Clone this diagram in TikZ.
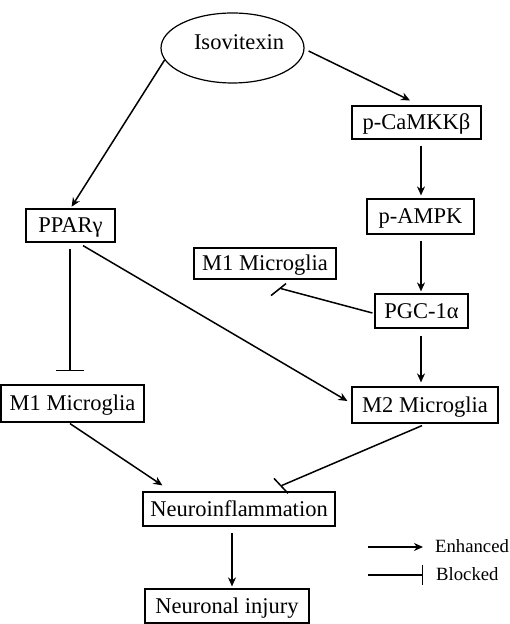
\documentclass[tikz,border=0pt]{standalone}
\usepackage{fontspec}
\setmainfont{Liberation Serif}
\usetikzlibrary{arrows.meta,shapes.geometric}
\begin{document}
\begin{tikzpicture}[x=1pt,y=1pt,
  box/.style={draw,line width=1.2pt,inner sep=0pt,text height=15pt,text depth=0pt,
    font=\fontsize{22.5}{27}\selectfont},
  conn/.style={line width=1.5pt},
  arr/.style={conn,-{Stealth[length=9pt,width=8pt]}},
  legtxt/.style={anchor=west,inner sep=0pt,font=\fontsize{18.7}{22}\selectfont}]
\useasboundingbox (0,0) rectangle (510,624);
% nodes
\node[draw,ellipse,line width=1.2pt,minimum width=143pt,minimum height=70pt,inner sep=0pt] (iso) at (232.5,576) {};
\node[inner sep=0pt,text height=15pt,text depth=0pt,font=\fontsize{22.5}{27}\selectfont] (isotxt) at (239,582) {Isovitexin};
\node[box,minimum width=129pt,minimum height=33pt] (cam) at (416.5,501.5) {p-CaMKKβ};
\node[box,minimum width=107pt,minimum height=35pt] (ampk) at (420.5,407.5) {p-AMPK};
\node[box,minimum width=89pt,minimum height=33pt] (ppar) at (70.5,398.5) {PPARγ};
\node[box,minimum width=142pt,minimum height=31pt] (m1a) at (265,360.5) {M1 Microglia};
\node[box,minimum width=93pt,minimum height=34pt] (pgc) at (421.5,313) {PGC-1α};
\node[box,minimum width=143pt,minimum height=37pt] (m1b) at (72.5,220.5) {M1 Microglia};
\node[box,minimum width=146pt,minimum height=36pt] (m2) at (425,219) {M2 Microglia};
\node[box,minimum width=192pt,minimum height=34pt] (neu) at (239,115) {Neuroinflammation};
\node[box,minimum width=164pt,minimum height=34pt] (inj) at (227,18) {Neuronal injury};
% connectors
\draw[arr,shorten >=2pt] (iso.190) -- (ppar.north);
\draw[arr] ([shift={(4,-3)}]iso.east) -- ([shift={(-6.5,5)}]cam.north);
\draw[arr] ([shift={(4.5,-6)}]cam.south) -- ([shift={(0.5,3)}]ampk.north);
\draw[arr] ([shift={(0.5,-6)}]ampk.south) -- ([shift={(-0.5,2)}]pgc.north);
\draw[conn] ([shift={(-2,-2)}]pgc.west) -- ([shift={(16,-9)}]m1a.south) coordinate (b1)
  ([shift={(-10,-7)}]b1) -- ([shift={(5,5)}]b1);
\draw[conn,-{Bar[width=28pt,line width=1.5pt]}] ([shift={(-0.5,-6)}]ppar.south) -- ([shift={(-2.5,13)}]m1b.north);
\draw[arr] ([shift={(12.5,-3)}]ppar.south) -- ([shift={(-4,4)}]m2.west);
\draw[arr] ([shift={(-0.5,-7)}]pgc.south) -- ([shift={(-4,4)}]m2.north);
\draw[arr] ([shift={(-2.5,-1)}]m1b.south) -- ([shift={(20,6)}]neu.north west);
\draw[conn] ([shift={(-3,-2)}]m2.south) -- ([shift={(43,6)}]neu.north) coordinate (b2)
  ([shift={(-8,7)}]b2) -- ([shift={(6,-8)}]b2);
\draw[arr] ([shift={(-7,-6)}]neu.south) -- ([shift={(5,2)}]inj.north);
% legend
\node[legtxt] (enh) at (435,78) {Enhanced};
\node[legtxt] (blk) at (436,50) {Blocked};
\coordinate (l1) at (368,77);
\coordinate (l2) at (368,49);
\draw[arr] (l1) -- ([xshift=-12pt,yshift=-1pt]enh.west);
\draw[conn,-{Bar[width=20pt,line width=1.5pt]}] (l2) -- ([xshift=-13pt,yshift=-1pt]blk.west);
\end{tikzpicture}
\end{document}
